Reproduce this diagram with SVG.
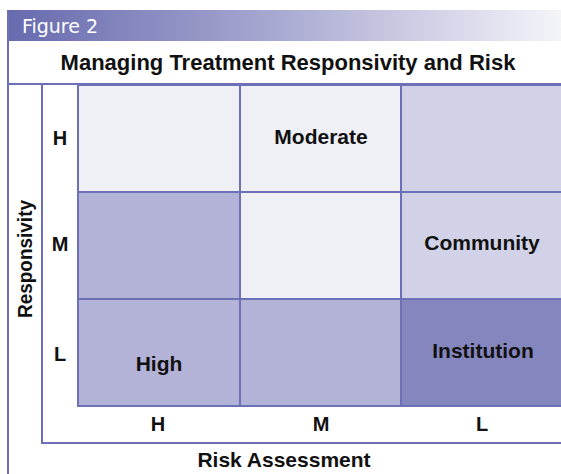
<svg xmlns="http://www.w3.org/2000/svg" width="561" height="474" viewBox="0 0 561 474">
  <defs>
    <linearGradient id="bandFill" x1="0" y1="0" x2="1" y2="0">
      <stop offset="0" stop-color="#676aae"/>
      <stop offset="0.45" stop-color="#a3a4cf"/>
      <stop offset="1" stop-color="#f4f4f9"/>
    </linearGradient>
  </defs>
  <style>
    .rule { stroke: #6e70b7; stroke-width: 2; fill: none; }
    .cell { stroke: #6e70b7; stroke-width: 2; }
    .pale { fill: #eff0f6; }
    .soft { fill: #d1d1e7; }
    .mid { fill: #b3b3d7; }
    .deep { fill: #8686bf; }
    .lbl { font-family: "Liberation Sans", Arial, sans-serif; font-weight: bold; font-size: 21px; fill: #111; text-anchor: middle; }
    .axis { font-size: 20px; }
    .title { font-family: "Liberation Sans", Arial, sans-serif; font-weight: bold; font-size: 22px; fill: #111; text-anchor: middle; }
    .fig { font-family: "DejaVu Sans Condensed", "Liberation Sans Narrow", "Roboto Condensed", sans-serif; font-size: 20px; fill: #ffffff; }
  </style>

  <rect width="561" height="474" fill="#ffffff"/>

  <!-- header band -->
  <g id="header">
    <rect x="8" y="10" width="553" height="31" fill="url(#bandFill)"/>
    <text class="fig" x="22" y="33" textLength="76" lengthAdjust="spacingAndGlyphs">Figure 2</text>
  </g>

  <g id="title">
    <text class="title" x="288" y="70">Managing Treatment Responsivity and Risk</text>
  </g>

  <!-- grid cells -->
  <g id="cell-HH"><rect class="cell pale" x="78" y="85" width="162" height="107"/></g>
  <g id="cell-HM"><rect class="cell pale" x="240" y="85" width="161" height="107"/>
    <text class="lbl" x="321" y="144">Moderate</text></g>
  <g id="cell-HL"><rect class="cell soft" x="401" y="85" width="165" height="107"/></g>

  <g id="cell-MH"><rect class="cell mid" x="78" y="192" width="162" height="107"/></g>
  <g id="cell-MM"><rect class="cell pale" x="240" y="192" width="161" height="107"/></g>
  <g id="cell-ML"><rect class="cell soft" x="401" y="192" width="165" height="107"/>
    <text class="lbl" x="482" y="250">Community</text></g>

  <g id="cell-LH"><rect class="cell mid" x="78" y="299" width="162" height="107"/>
    <text class="lbl" x="159" y="371">High</text></g>
  <g id="cell-LM"><rect class="cell mid" x="240" y="299" width="161" height="107"/></g>
  <g id="cell-LL"><rect class="cell deep" x="401" y="299" width="165" height="107"/>
    <text class="lbl" x="483" y="358">Institution</text></g>

  <!-- frame rules -->
  <g id="rules">
    <line class="rule" x1="8" y1="10" x2="8" y2="474"/>
    <line class="rule" x1="8" y1="84" x2="561" y2="84"/>
    <line class="rule" x1="42" y1="84" x2="42" y2="443"/>
    <line class="rule" x1="41" y1="443" x2="561" y2="443"/>
  </g>

  <!-- axis labels -->
  <g id="row-labels">
    <text class="lbl axis" x="60" y="145">H</text>
    <text class="lbl axis" x="60" y="251">M</text>
    <text class="lbl axis" x="60" y="361">L</text>
  </g>
  <g id="col-labels">
    <text class="lbl axis" x="158" y="431">H</text>
    <text class="lbl axis" x="321" y="431">M</text>
    <text class="lbl axis" x="482" y="431">L</text>
  </g>
  <g id="y-axis-title">
    <text class="lbl" font-size="22" transform="translate(32 259) rotate(-90)" x="0" y="0" textLength="118" lengthAdjust="spacingAndGlyphs">Responsivity</text>
  </g>
  <g id="x-axis-title">
    <text class="lbl" x="284" y="467">Risk Assessment</text>
  </g>
</svg>
